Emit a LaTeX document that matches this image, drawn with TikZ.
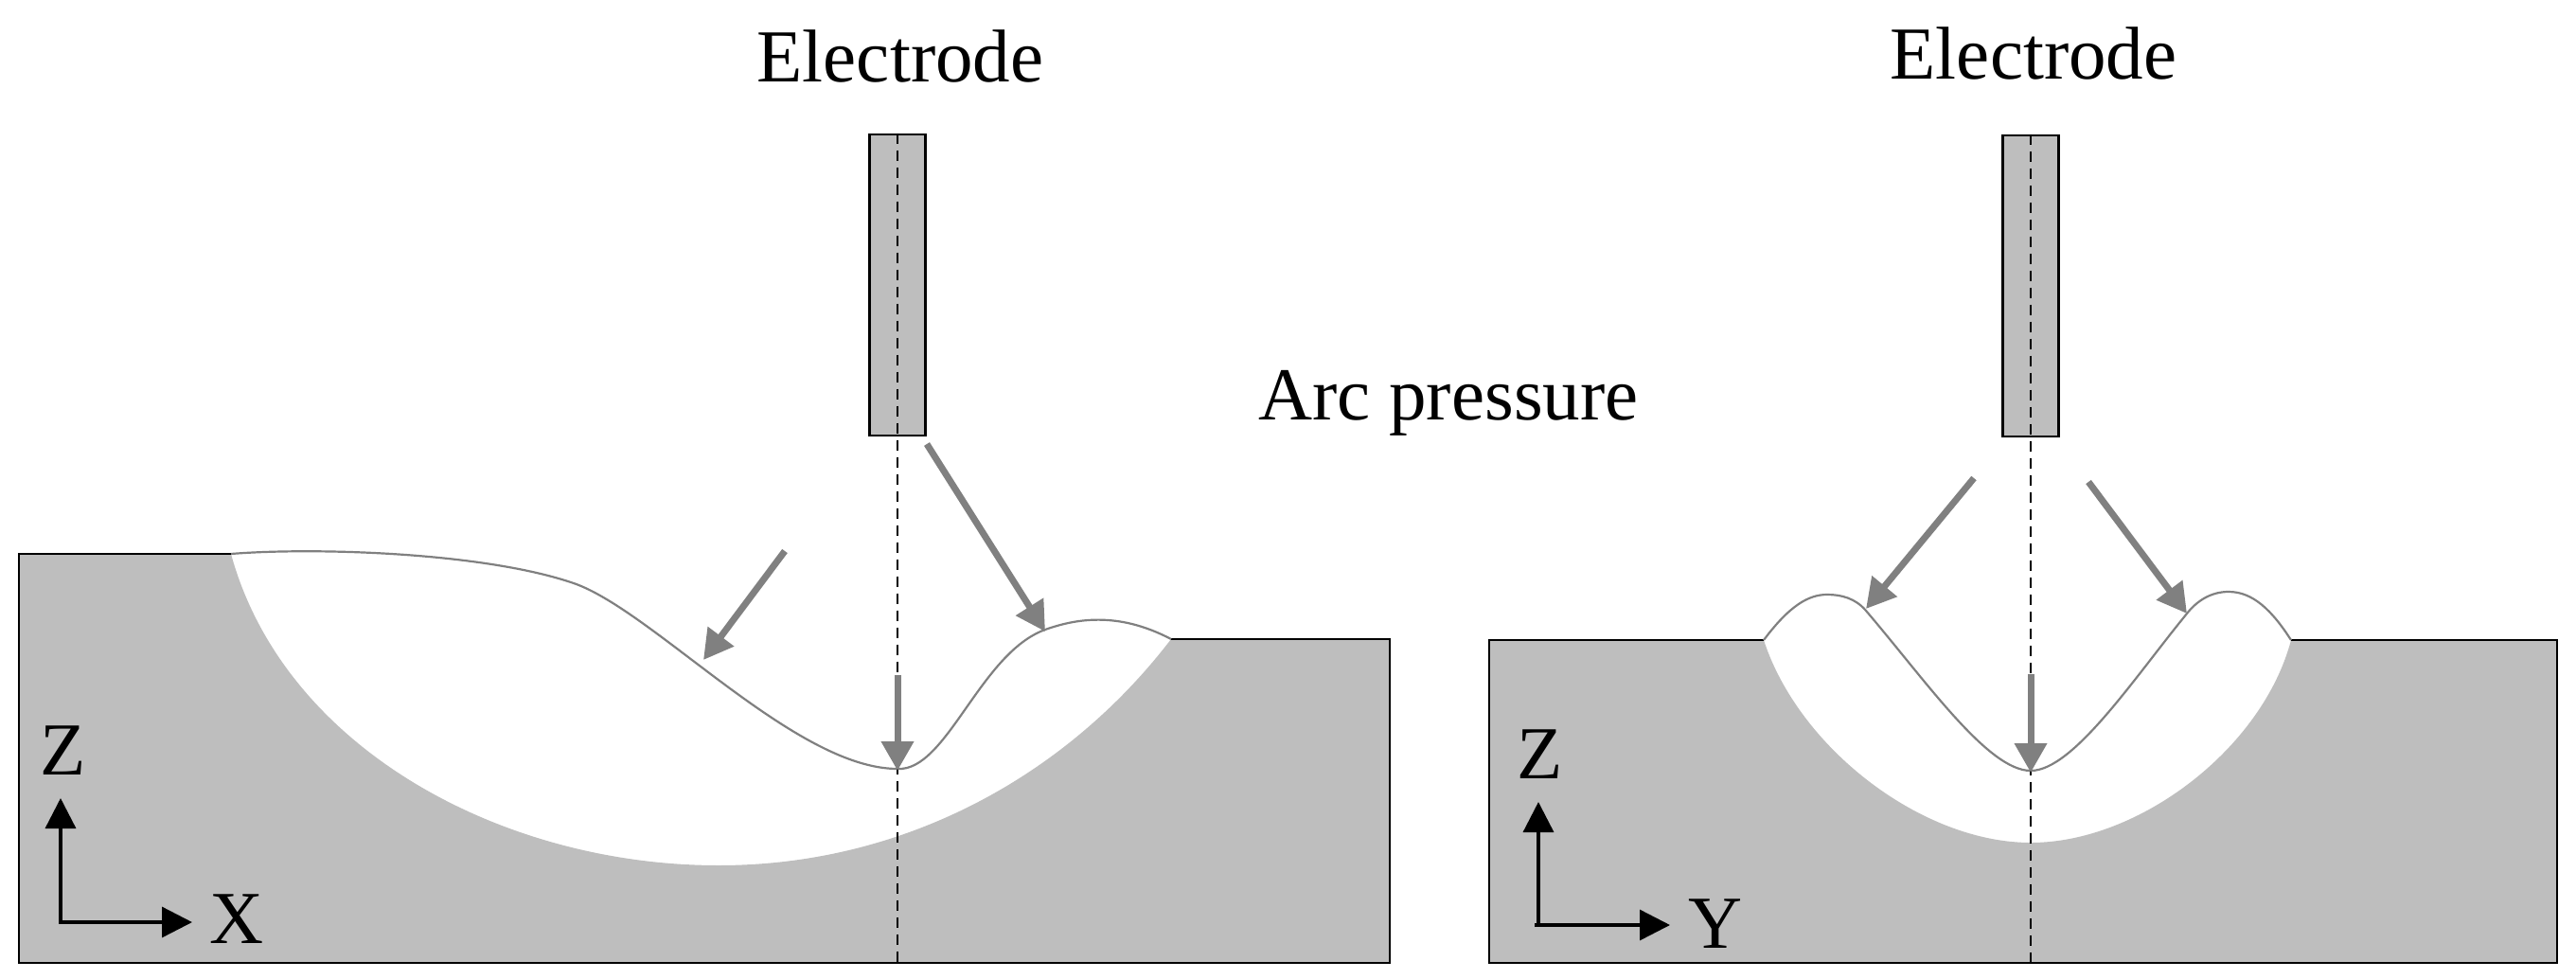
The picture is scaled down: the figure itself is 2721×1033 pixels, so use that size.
\documentclass[tikz,border=0pt]{standalone}
\usepackage{fontspec}
\setmainfont{Liberation Serif}
\usetikzlibrary{arrows.meta}
\definecolor{blockgray}{HTML}{BEBEBE}
\definecolor{arrowgray}{HTML}{808080}
\tikzset{
  outline/.style={black,line width=2.6pt},
  surface/.style={arrowgray,line width=2.2pt},
  axisline/.style={black,line width=3.4pt,-{Triangle[length=32pt,width=32pt]}},
  pressure/.style={arrowgray,line width=7pt,-{Triangle[length=31pt,width=33pt]}},
  centre/.style={black,line width=2.4pt,dash pattern=on 11pt off 7pt},
  label/.style={inner sep=0pt,anchor=base,font=\fontsize{79}{90}\selectfont},
  rodbox/.style={fill=blockgray,draw=black,line width=2.6pt}
}
\begin{document}
\begin{tikzpicture}[x=1pt,y=-1pt]
\useasboundingbox (0,0) rectangle (2721,1033);
% --- left block
\fill[blockgray] (20,585) -- (244,585)
  .. controls (300,790) and (530,914) .. (759,914)
  .. controls (960,914) and (1130,815) .. (1237,675)
  -- (1468,675) -- (1468,1017) -- (20,1017) -- cycle;
\draw[outline] (244,585) -- (20,585) -- (20,1017) -- (1468,1017) -- (1468,675) -- (1237,675);
\draw[surface] (244,585) .. controls (330,578) and (510,583) .. (606,616)
  .. controls (690,645) and (840,812) .. (948,812)
  .. controls (1000,815) and (1035,690) .. (1104,665)
  .. controls (1135,654) and (1180,645) .. (1237,675);
% --- left electrode
\node[rodbox,minimum width=59pt,minimum height=318pt,inner sep=0pt] (rodL) at (948,301) {};
\coordinate (baseL) at (948,1020);
\draw[centre] (rodL.north) -- (baseL);
% --- left arrows
\coordinate (a1s) at (829,582); \coordinate (a1e) at (743,697);
\coordinate (a2s) at (979,469); \coordinate (a2e) at (1104,667);
\coordinate (a3s) at (948,713); \coordinate (a3e) at (948,814);
\draw[pressure] (a1s) -- (a1e);
\draw[pressure] (a2s) -- (a2e);
\draw[pressure] (a3s) -- (a3e);
% --- left axes
\coordinate (oL) at (64,974); \coordinate (zL) at (64,843); \coordinate (xL) at (203,974);
\draw[axisline] (oL) -- (zL);
\draw[axisline] ([xshift=-1.7pt]oL) -- (xL);
\node[label] (tzL) at (67,818) {Z};
\node[label] (txL) at (250,996) {X};
% --- right block
\fill[blockgray] (1573,676) -- (1863,676)
  .. controls (1900,790) and (2030,890) .. (2145,890)
  .. controls (2260,890) and (2390,790) .. (2420,676)
  -- (2701,676) -- (2701,1017) -- (1573,1017) -- cycle;
\draw[outline] (1863,676) -- (1573,676) -- (1573,1017) -- (2701,1017) -- (2701,676) -- (2420,676);
\draw[surface] (1863,676) .. controls (1890,640) and (1910,628) .. (1930,628)
  .. controls (1945,628) and (1960,632) .. (1971,645)
  .. controls (2035,720) and (2100,814) .. (2145,814)
  .. controls (2190,814) and (2255,715) .. (2310,648)
  .. controls (2321,634) and (2336,625) .. (2354,625)
  .. controls (2380,625) and (2400,645) .. (2420,676);
% --- right electrode
\node[rodbox,minimum width=59pt,minimum height=318pt,inner sep=0pt] (rodR) at (2145,302) {};
\coordinate (baseR) at (2145,1020);
\draw[centre] (rodR.north) -- (baseR);
% --- right arrows
\coordinate (b1s) at (2085,505); \coordinate (b1e) at (1971,643);
\coordinate (b2s) at (2206,509); \coordinate (b2e) at (2310,648);
\coordinate (b3s) at (2145,712); \coordinate (b3e) at (2145,816);
\draw[pressure] (b1s) -- (b1e);
\draw[pressure] (b2s) -- (b2e);
\draw[pressure] (b3s) -- (b3e);
% --- right axes
\coordinate (oR) at (1625,977); \coordinate (zR) at (1625,847); \coordinate (yR) at (1764,977);
\draw[axisline] (oR) -- (zR);
\draw[axisline] ([xshift=-4pt]oR) -- (yR);
\node[label] (tzR) at (1627,822) {Z};
\node[label] (tyR) at (1812,1001) {Y};
% --- texts
\node[label] (elL) at (951,86) {Electrode};
\node[label] (elR) at (2148,83) {Electrode};
\node[label] (arc) at (1530,443) {Arc pressure};
\end{tikzpicture}
\end{document}
